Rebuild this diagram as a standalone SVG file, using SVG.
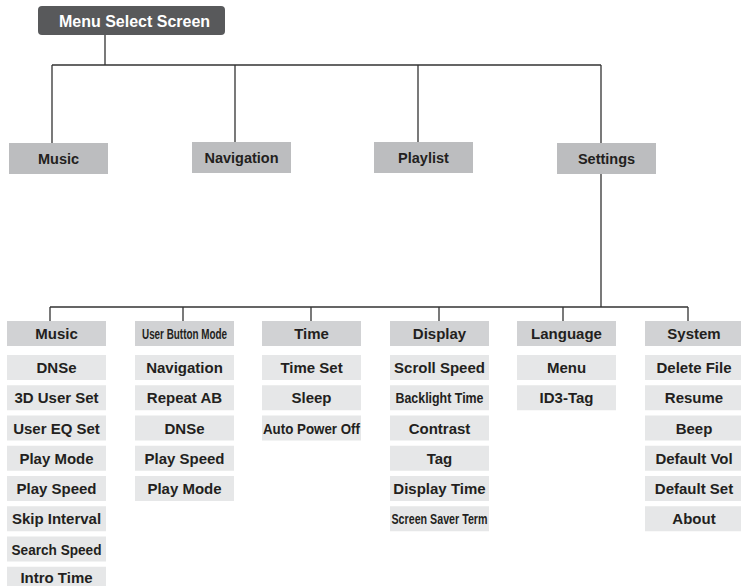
<svg xmlns="http://www.w3.org/2000/svg" width="741" height="586" viewBox="0 0 741 586">
<style>
text{font-family:"Liberation Sans",Arial,sans-serif;font-weight:bold;fill:#231f20;text-anchor:middle}
.root rect{fill:#58595b}
.root text{fill:#fff;font-size:16px}
.l1 rect{fill:#bcbdbf}
.l1 text{font-size:14.5px}
.hd rect{fill:#d1d2d4}
.it rect{fill:#e6e7e8}
.hd text,.it text{font-size:15px}
.conn{stroke:#333;stroke-width:1.3;fill:none}
</style>
<rect width="741" height="586" fill="#fff"/>
<g id="connectors" class="conn">
<path d="M105,35V65M52,65H601M52,65V143M235,65V142M418,65V142M601,65V143"/>
<path d="M601,174V307M50,307H688M50,307V321M183,307V321M311,307V321M439,307V321M563,307V321M688,307V321"/>
</g>
<g id="menu-select-screen" class="root"><rect x="38" y="6" width="187" height="29" rx="4"/><text x="134.5" y="27">Menu Select Screen</text></g>
<g id="music" class="l1"><rect x="9" y="143" width="99" height="31"/><text x="58.5" y="164">Music</text></g>
<g id="navigation" class="l1"><rect x="192" y="142" width="99" height="31"/><text x="241.5" y="163">Navigation</text></g>
<g id="playlist" class="l1"><rect x="374" y="142" width="99" height="31"/><text x="423.5" y="163">Playlist</text></g>
<g id="settings" class="l1"><rect x="557" y="143" width="99" height="31"/><text x="606.5" y="164">Settings</text></g>

<g id="col-music">
<g id="h-music" class="hd"><rect x="7" y="321" width="99" height="25"/><text x="56.5" y="339">Music</text></g>
<g class="it"><rect x="7" y="355" width="99" height="25"/><text x="56.5" y="373">DNSe</text></g>
<g class="it"><rect x="7" y="385.25" width="99" height="25"/><text x="56.5" y="403.25">3D User Set</text></g>
<g class="it"><rect x="7" y="415.5" width="99" height="25"/><text x="56.5" y="433.5">User EQ Set</text></g>
<g class="it"><rect x="7" y="445.75" width="99" height="25"/><text x="56.5" y="463.75">Play Mode</text></g>
<g class="it"><rect x="7" y="476" width="99" height="25"/><text x="56.5" y="494">Play Speed</text></g>
<g class="it"><rect x="7" y="506.25" width="99" height="25"/><text x="56.5" y="524.25">Skip Interval</text></g>
<g class="it"><rect x="7" y="536.5" width="99" height="25"/><text x="56.5" y="554.5" textLength="90" lengthAdjust="spacingAndGlyphs">Search Speed</text></g>
<g class="it"><rect x="7" y="566.75" width="99" height="25"/><text x="56.5" y="583">Intro Time</text></g>
</g>

<g id="col-user-button-mode">
<g id="h-ubm" class="hd"><rect x="135" y="321" width="99" height="25"/><text x="184.5" y="339" textLength="85" lengthAdjust="spacingAndGlyphs">User Button Mode</text></g>
<g class="it"><rect x="135" y="355" width="99" height="25"/><text x="184.5" y="373">Navigation</text></g>
<g class="it"><rect x="135" y="385.25" width="99" height="25"/><text x="184.5" y="403.25">Repeat AB</text></g>
<g class="it"><rect x="135" y="415.5" width="99" height="25"/><text x="184.5" y="433.5">DNSe</text></g>
<g class="it"><rect x="135" y="445.75" width="99" height="25"/><text x="184.5" y="463.75">Play Speed</text></g>
<g class="it"><rect x="135" y="476" width="99" height="25"/><text x="184.5" y="494">Play Mode</text></g>
</g>

<g id="col-time">
<g id="h-time" class="hd"><rect x="262" y="321" width="99" height="25"/><text x="311.5" y="339">Time</text></g>
<g class="it"><rect x="262" y="355" width="99" height="25"/><text x="311.5" y="373">Time Set</text></g>
<g class="it"><rect x="262" y="385.25" width="99" height="25"/><text x="311.5" y="403.25">Sleep</text></g>
<g class="it"><rect x="262" y="415.5" width="99" height="25"/><text x="311.5" y="433.5" textLength="97" lengthAdjust="spacingAndGlyphs">Auto Power Off</text></g>
</g>

<g id="col-display">
<g id="h-display" class="hd"><rect x="390" y="321" width="99" height="25"/><text x="439.5" y="339">Display</text></g>
<g class="it"><rect x="390" y="355" width="99" height="25"/><text x="439.5" y="373">Scroll Speed</text></g>
<g class="it"><rect x="390" y="385.25" width="99" height="25"/><text x="439.5" y="403.25" textLength="88" lengthAdjust="spacingAndGlyphs">Backlight Time</text></g>
<g class="it"><rect x="390" y="415.5" width="99" height="25"/><text x="439.5" y="433.5">Contrast</text></g>
<g class="it"><rect x="390" y="445.75" width="99" height="25"/><text x="439.5" y="463.75">Tag</text></g>
<g class="it"><rect x="390" y="476" width="99" height="25"/><text x="439.5" y="494">Display Time</text></g>
<g class="it"><rect x="390" y="506.25" width="99" height="25"/><text x="439.5" y="524.25" textLength="96" lengthAdjust="spacingAndGlyphs">Screen Saver Term</text></g>
</g>

<g id="col-language">
<g id="h-language" class="hd"><rect x="517" y="321" width="99" height="25"/><text x="566.5" y="339">Language</text></g>
<g class="it"><rect x="517" y="355" width="99" height="25"/><text x="566.5" y="373">Menu</text></g>
<g class="it"><rect x="517" y="385.25" width="99" height="25"/><text x="566.5" y="403.25">ID3-Tag</text></g>
</g>

<g id="col-system">
<g id="h-system" class="hd"><rect x="645" y="321" width="99" height="25"/><text x="694" y="339">System</text></g>
<g class="it"><rect x="645" y="355" width="99" height="25"/><text x="694" y="373">Delete File</text></g>
<g class="it"><rect x="645" y="385.25" width="99" height="25"/><text x="694" y="403.25">Resume</text></g>
<g class="it"><rect x="645" y="415.5" width="99" height="25"/><text x="694" y="433.5">Beep</text></g>
<g class="it"><rect x="645" y="445.75" width="99" height="25"/><text x="694" y="463.75">Default Vol</text></g>
<g class="it"><rect x="645" y="476" width="99" height="25"/><text x="694" y="494">Default Set</text></g>
<g class="it"><rect x="645" y="506.25" width="99" height="25"/><text x="694" y="524.25">About</text></g>
</g>
</svg>
